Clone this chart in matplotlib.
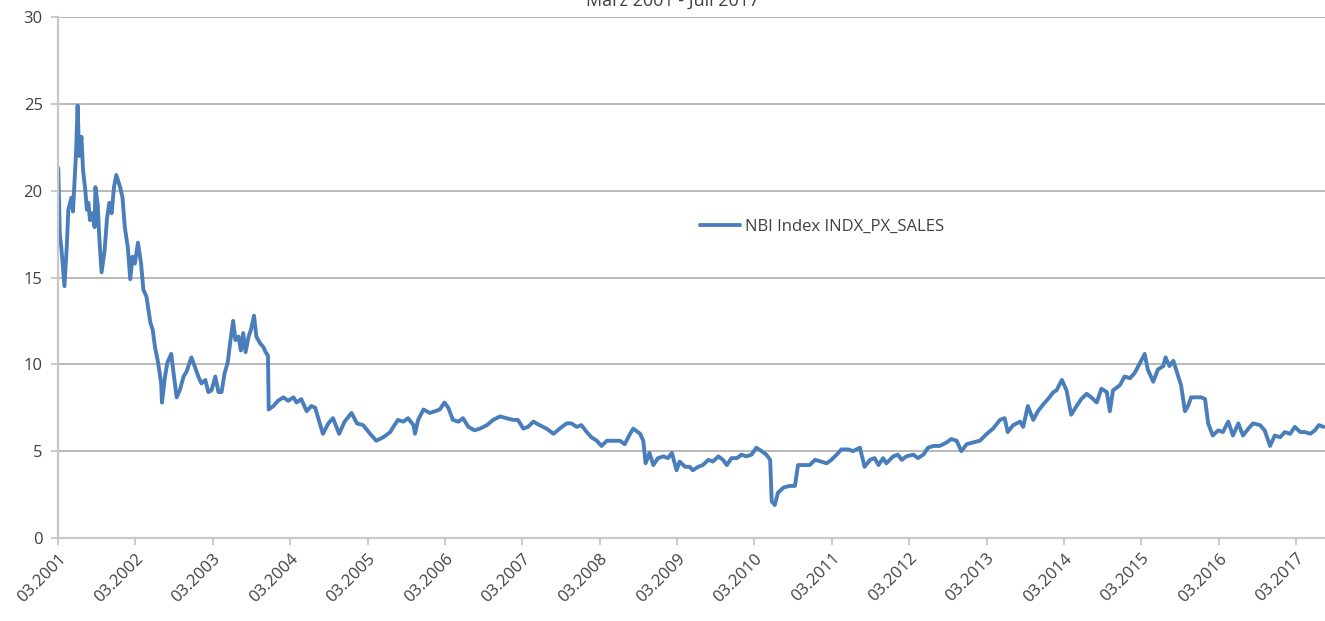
import matplotlib
matplotlib.use("Agg")
import matplotlib.pyplot as plt

# ---- data (decimal years, index value) ----
dates = [
    2001.17, 2001.19, 2001.21, 2001.25, 2001.28, 2001.30, 2001.34, 2001.36, 2001.40, 2001.42,
    2001.44, 2001.47, 2001.49, 2001.52, 2001.54, 2001.56, 2001.58, 2001.61, 2001.64, 2001.65,
    2001.68, 2001.70, 2001.73, 2001.77, 2001.80, 2001.83, 2001.86, 2001.89, 2001.92, 2001.97,
    2002.00, 2002.03, 2002.07, 2002.10, 2002.13, 2002.16, 2002.20, 2002.24, 2002.27, 2002.31,
    2002.36, 2002.39, 2002.42, 2002.46, 2002.50, 2002.51, 2002.55, 2002.58, 2002.63, 2002.66,
    2002.70, 2002.74, 2002.79, 2002.83, 2002.89, 2002.94, 2002.98, 2003.02, 2003.07, 2003.11,
    2003.15, 2003.20, 2003.24, 2003.28, 2003.32, 2003.36, 2003.39, 2003.43, 2003.46, 2003.50,
    2003.53, 2003.56, 2003.59, 2003.63, 2003.66, 2003.70, 2003.73, 2003.78, 2003.82, 2003.85,
    2003.88, 2003.89, 2003.95, 2004.01, 2004.08, 2004.14, 2004.21, 2004.25, 2004.31, 2004.38,
    2004.44, 2004.49, 2004.55, 2004.59, 2004.66, 2004.72, 2004.80, 2004.87, 2004.96, 2005.03,
    2005.11, 2005.20, 2005.28, 2005.37, 2005.46, 2005.50, 2005.56, 2005.63, 2005.69, 2005.76,
    2005.78, 2005.82, 2005.89, 2005.97, 2006.04, 2006.10, 2006.16, 2006.21, 2006.27, 2006.34,
    2006.40, 2006.47, 2006.55, 2006.62, 2006.71, 2006.79, 2006.88, 2006.96, 2007.05, 2007.11,
    2007.18, 2007.24, 2007.31, 2007.39, 2007.48, 2007.57, 2007.65, 2007.74, 2007.80, 2007.87,
    2007.93, 2008.00, 2008.06, 2008.13, 2008.19, 2008.26, 2008.34, 2008.43, 2008.49, 2008.56,
    2008.60, 2008.69, 2008.73, 2008.76, 2008.81, 2008.86, 2008.92, 2008.99, 2009.05, 2009.10,
    2009.16, 2009.20, 2009.27, 2009.33, 2009.37, 2009.44, 2009.50, 2009.57, 2009.63, 2009.70,
    2009.76, 2009.81, 2009.87, 2009.94, 2010.00, 2010.06, 2010.13, 2010.19, 2010.26, 2010.32,
    2010.37, 2010.39, 2010.43, 2010.47, 2010.54, 2010.62, 2010.69, 2010.73, 2010.80, 2010.88,
    2010.95, 2011.03, 2011.10, 2011.16, 2011.23, 2011.29, 2011.38, 2011.44, 2011.53, 2011.59,
    2011.66, 2011.72, 2011.77, 2011.83, 2011.87, 2011.96, 2012.02, 2012.07, 2012.13, 2012.22,
    2012.28, 2012.35, 2012.41, 2012.48, 2012.56, 2012.65, 2012.71, 2012.78, 2012.84, 2012.91,
    2012.99, 2013.08, 2013.17, 2013.25, 2013.34, 2013.40, 2013.44, 2013.51, 2013.60, 2013.64,
    2013.70, 2013.77, 2013.83, 2013.90, 2013.96, 2014.03, 2014.07, 2014.14, 2014.20, 2014.26,
    2014.33, 2014.39, 2014.46, 2014.52, 2014.59, 2014.65, 2014.72, 2014.76, 2014.80, 2014.89,
    2014.95, 2015.02, 2015.08, 2015.14, 2015.21, 2015.25, 2015.32, 2015.38, 2015.45, 2015.48,
    2015.53, 2015.58, 2015.63, 2015.68, 2015.73, 2015.77, 2015.81, 2015.88, 2015.94, 2015.99,
    2016.03, 2016.09, 2016.16, 2016.22, 2016.29, 2016.35, 2016.42, 2016.48, 2016.55, 2016.61,
    2016.70, 2016.76, 2016.83, 2016.89, 2016.96, 2017.02, 2017.09, 2017.15, 2017.22, 2017.28,
    2017.35, 2017.41, 2017.46, 2017.52,
]
values = [
    21.3, 17.5, 16.7, 14.5, 16.8, 18.9, 19.6, 18.8, 22.2, 24.9,
    22.0, 23.1, 21.2, 20.0, 18.9, 19.3, 18.3, 18.7, 17.9, 20.2,
    19.2, 17.3, 15.3, 16.6, 18.4, 19.3, 18.7, 20.2, 20.9, 20.2,
    19.6, 17.9, 16.7, 14.9, 16.2, 15.8, 17.0, 15.8, 14.3, 13.9,
    12.4, 12.0, 11.0, 10.1, 8.9, 7.8, 9.3, 10.1, 10.6, 9.5,
    8.1, 8.5, 9.3, 9.6, 10.4, 9.8, 9.3, 8.9, 9.1, 8.4,
    8.5, 9.3, 8.4, 8.4, 9.5, 10.1, 11.2, 12.5, 11.4, 11.6,
    10.8, 11.8, 10.7, 11.6, 12.0, 12.8, 11.6, 11.2, 11.0, 10.7,
    10.5, 7.4, 7.6, 7.9, 8.1, 7.9, 8.1, 7.8, 8.0, 7.3,
    7.6, 7.5, 6.6, 6.0, 6.6, 6.9, 6.0, 6.7, 7.2, 6.6,
    6.5, 6.0, 5.6, 5.8, 6.1, 6.4, 6.8, 6.7, 6.9, 6.5,
    6.0, 6.8, 7.4, 7.2, 7.3, 7.4, 7.8, 7.5, 6.8, 6.7,
    6.9, 6.4, 6.2, 6.3, 6.5, 6.8, 7.0, 6.9, 6.8, 6.8,
    6.3, 6.4, 6.7, 6.5, 6.3, 6.0, 6.3, 6.6, 6.6, 6.4,
    6.5, 6.1, 5.8, 5.6, 5.3, 5.6, 5.6, 5.6, 5.4, 6.0,
    6.3, 6.0, 5.6, 4.3, 4.9, 4.2, 4.6, 4.7, 4.6, 4.9,
    3.9, 4.4, 4.1, 4.1, 3.9, 4.1, 4.2, 4.5, 4.4, 4.7,
    4.5, 4.2, 4.6, 4.6, 4.8, 4.7, 4.8, 5.2, 5.0, 4.8,
    4.5, 2.1, 1.9, 2.6, 2.9, 3.0, 3.0, 4.2, 4.2, 4.2,
    4.5, 4.4, 4.3, 4.5, 4.8, 5.1, 5.1, 5.0, 5.2, 4.1,
    4.5, 4.6, 4.2, 4.6, 4.3, 4.7, 4.8, 4.5, 4.7, 4.8,
    4.6, 4.8, 5.2, 5.3, 5.3, 5.5, 5.7, 5.6, 5.0, 5.4,
    5.5, 5.6, 6.0, 6.3, 6.8, 6.9, 6.1, 6.5, 6.7, 6.4,
    7.6, 6.8, 7.3, 7.7, 8.0, 8.4, 8.5, 9.1, 8.5, 7.1,
    7.6, 8.0, 8.3, 8.1, 7.8, 8.6, 8.4, 7.3, 8.5, 8.8,
    9.3, 9.2, 9.5, 10.0, 10.6, 9.7, 9.0, 9.7, 9.9, 10.4,
    9.9, 10.2, 9.5, 8.8, 7.3, 7.6, 8.1, 8.1, 8.1, 8.0,
    6.6, 5.9, 6.2, 6.1, 6.7, 5.9, 6.6, 5.9, 6.3, 6.6,
    6.5, 6.2, 5.3, 5.9, 5.8, 6.1, 6.0, 6.4, 6.1, 6.1,
    6.0, 6.2, 6.5, 6.4,
]
tick_years = list(range(2001, 2018))
tick_labels = [f"03.{y}" for y in tick_years]
y_ticks = [0, 5, 10, 15, 20, 25, 30]
series_name = "NBI Index INDX_PX_SALES"
title = "März 2001 - Juli 2017"

# ---- figure ----
plt.rcParams['font.family'] = ['Open Sans', 'DejaVu Sans']
W, H = 1325, 621
fig = plt.figure(figsize=(W / 100, H / 100), dpi=100)
ax = fig.add_axes([58 / W, (H - 538) / H, (W - 58) / W, (538 - 17) / H])

ax.plot(dates, values, color='#4a7ebb', lw=2.8, label=series_name,
        solid_joinstyle='round', solid_capstyle='round')

ax.set_ylim(0, 30)
ax.set_xlim(2001 + 2 / 12, 2017.54)
ax.set_yticks(y_ticks)
ax.set_xticks([y + 2 / 12 for y in tick_years])
ax.set_xticklabels(tick_labels, rotation=45, ha='right', rotation_mode='anchor')

grid_c = '#a6a6a6'
ax.grid(axis='y', color=grid_c, lw=1.1)
ax.set_axisbelow(True)
for s in ['top', 'right']:
    ax.spines[s].set_visible(False)
for s in ['left', 'bottom']:
    ax.spines[s].set_color('#c8c8c8')
    ax.spines[s].set_linewidth(1.6)
ax.tick_params(axis='both', colors='#c0c0c0', labelcolor='#404040', labelsize=12, length=5, width=1.2)
ax.tick_params(axis='y', pad=6)
ax.tick_params(axis='x', pad=4)

leg = ax.legend(loc='center left', bbox_to_anchor=((693 - 58) / (W - 58), (538 - 227) / (538 - 17)),
                frameon=False, fontsize=12, handlelength=2.4, handletextpad=0.3, borderaxespad=0)
for t in leg.get_texts():
    t.set_color('#404040')

fig.text(673 / W, 1.0 - 1 / H, title, ha='center', va='center', fontsize=13, color='#404040')

fig.savefig('out.png', dpi=100, facecolor='white')
